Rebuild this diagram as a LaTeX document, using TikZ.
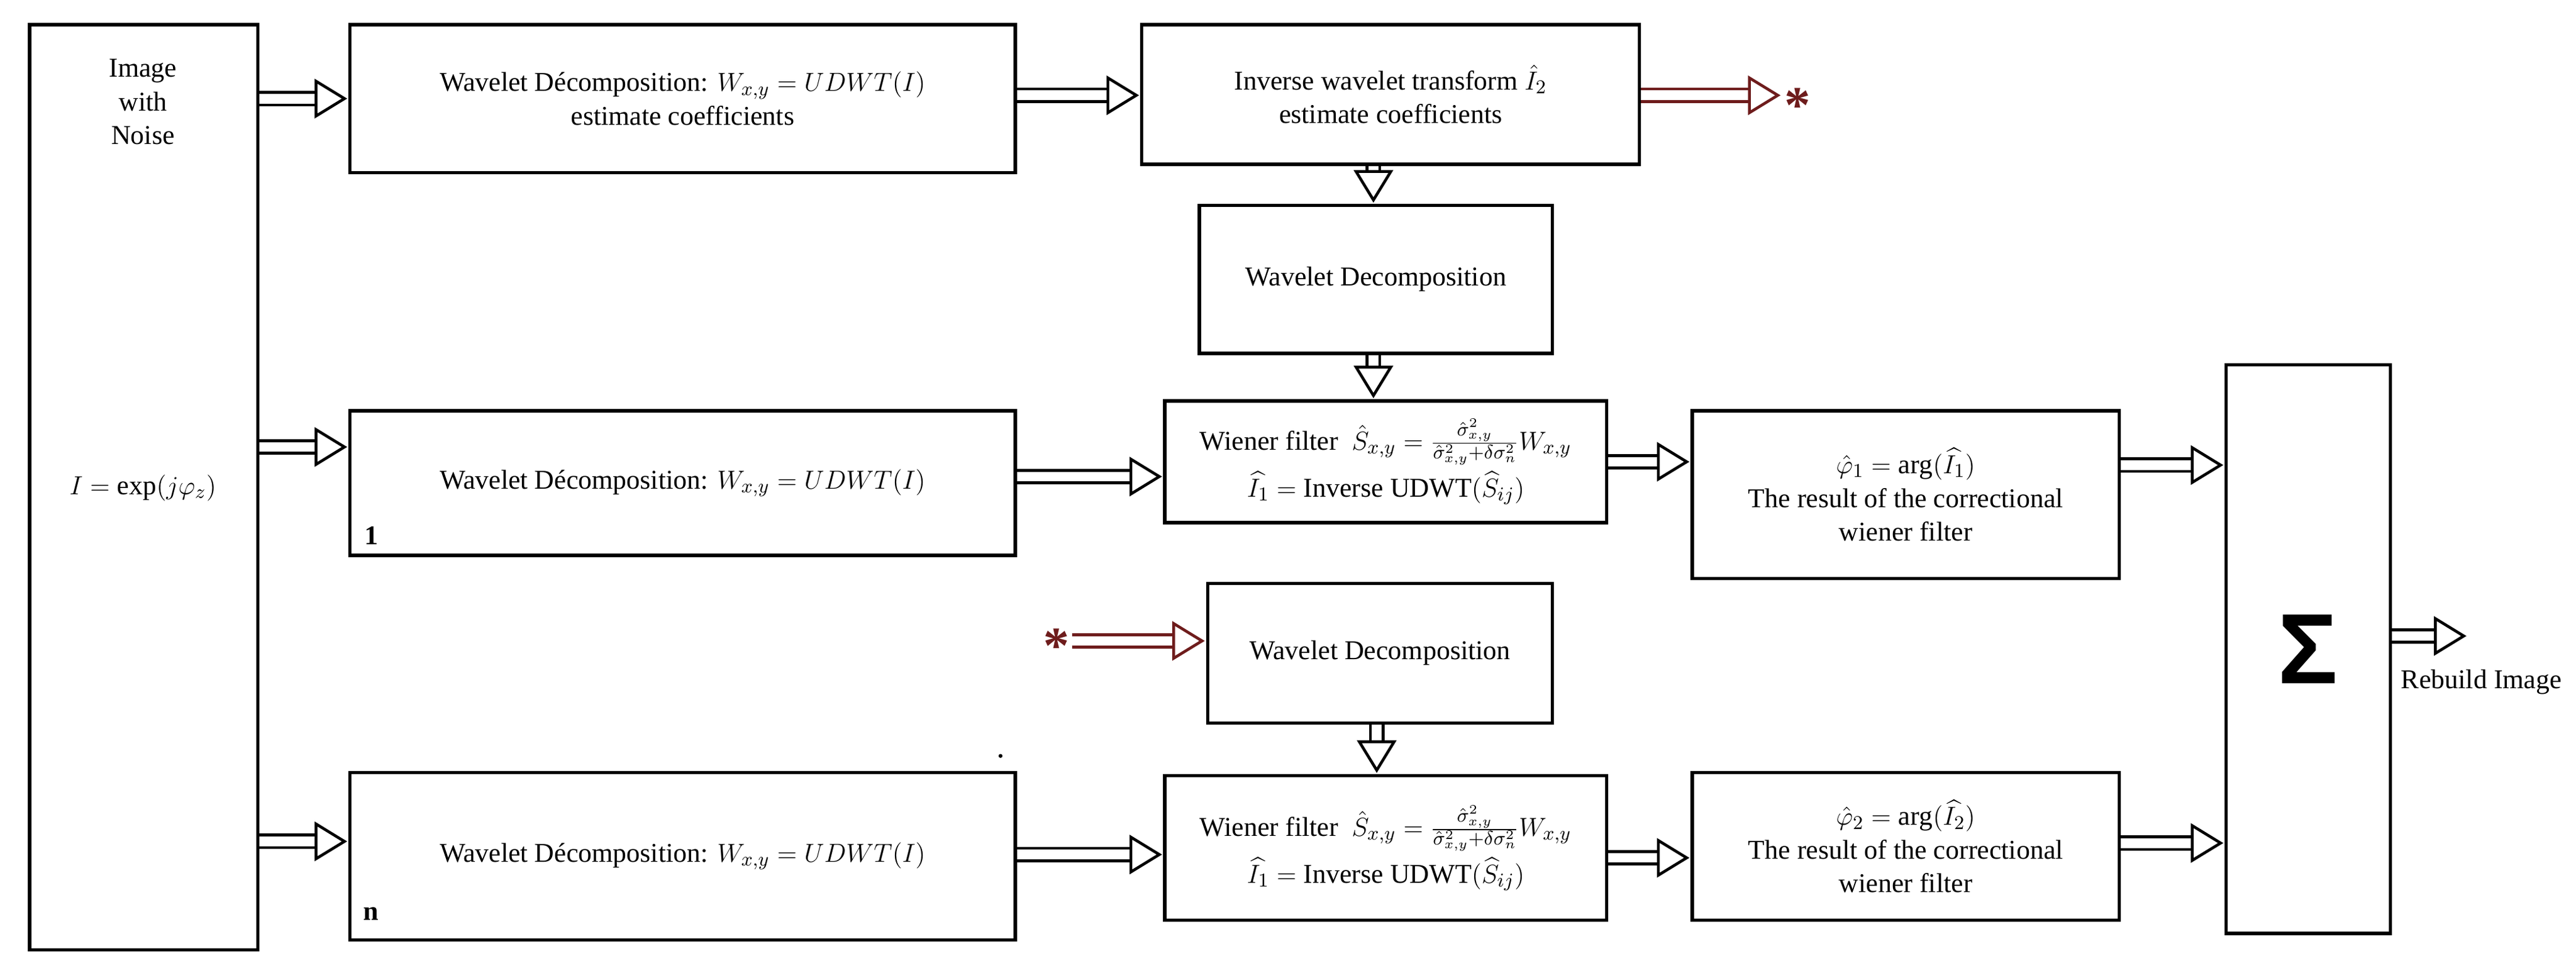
\documentclass[tikz,border=0pt]{standalone}
\usepackage{amsmath}
\usepackage{fontspec}
\setmainfont{Liberation Serif}
\newfontfamily\sgmfont{Liberation Sans}
\usetikzlibrary{arrows.meta}
\definecolor{dred}{RGB}{110,28,28}
\newcommand\blk[6]{\node[box, minimum width={(#4-#2)*0.0266cm}, minimum height={(#5-#3)*0.0266cm}] (#1) at ({(#2+#4)/2},{(#3+#5)/2}) {#6};}
\tikzset{
  box/.style={draw, line width=1.5pt, align=center, inner sep=2pt, font=\fontsize{12.5}{15.5}\selectfont},
  harrow/.style={double, double distance=4.5pt, line width=1.3pt, -{Triangle[open,length=15pt,width=18pt,line width=1.3pt]}, shorten >=0.5pt},
  rarrow/.style={harrow, draw=dred},
  lbl/.style={font=\fontsize{12.5}{15.5}\selectfont, align=center, inner sep=1pt}
}
\begin{document}
\begin{tikzpicture}[x=0.0266cm,y=-0.0266cm]
\useasboundingbox (0,0) rectangle (1568,592);
\blk{img}{18}{15}{157}{578}{}
\node[lbl] (imgt) at (87,62) {Image\\with\\Noise};
\node[lbl] (imgf) at (87,297) {$I=\exp(j\varphi_z)$};
\blk{wda}{213}{15}{618}{105}{Wavelet Décomposition: $W_{x,y}=UDWT(I)$\\estimate coefficients}
\blk{inv}{695}{15}{998}{100}{Inverse wavelet transform $\hat I_2$\\estimate coefficients}
\node[lbl, text=dred, font=\fontsize{24}{24}\selectfont\bfseries] (st1) at (1094,64) {*};
\blk{wd2}{730}{125}{945}{215}{Wavelet Decomposition}
\blk{wi1}{709}{244}{978}{318}{Wiener filter\ \ $\hat S_{x,y}=\frac{\hat\sigma^2_{x,y}}{\hat\sigma^2_{x,y}+\delta\sigma^2_n}W_{x,y}$\\[2pt]$\widehat{I_1}=\text{Inverse UDWT}(\widehat{S}_{ij})$}
\blk{wd1}{213}{250}{618}{338}{Wavelet Décomposition: $W_{x,y}=UDWT(I)$}
\node[lbl, font=\fontsize{12.5}{15}\selectfont\bfseries] (one) at (226,326) {1};
\blk{ph1}{1030}{250}{1290}{352}{$\hat\varphi_1=\arg(\widehat{I_1})$\\The result of the correctional\\wiener filter}
\blk{sig}{1355}{222}{1455}{568}{\fontsize{46}{46}\selectfont\sgmfont\bfseries Σ}
\node[lbl, anchor=west] (out) at (1460,415) {Rebuild Image};
\node[lbl, text=dred, font=\fontsize{24}{24}\selectfont\bfseries] (st2) at (643,393) {*};
\blk{wd3}{735}{355}{945}{440}{Wavelet Decomposition}
\blk{wi2}{709}{472}{978}{560}{Wiener filter\ \ $\hat S_{x,y}=\frac{\hat\sigma^2_{x,y}}{\hat\sigma^2_{x,y}+\delta\sigma^2_n}W_{x,y}$\\[2pt]$\widehat{I_1}=\text{Inverse UDWT}(\widehat{S}_{ij})$}
\blk{wdn}{213}{470}{618}{572}{Wavelet Décomposition: $W_{x,y}=UDWT(I)$}
\node[lbl, font=\fontsize{12.5}{15}\selectfont\bfseries] (nn) at (226,556) {n};
\blk{ph2}{1030}{470}{1290}{560}{$\hat\varphi_2=\arg(\widehat{I_2})$\\The result of the correctional\\wiener filter}
\fill (609,460) circle (1.2);
\coordinate (oe) at (1502,387);
% arrows
\draw[harrow] (img.east |- 0,60) -- (wda.west |- 0,60);
\draw[harrow] (wda.east |- 0,58) -- (inv.west |- 0,58);
\draw[rarrow] (inv.east |- 0,58) -- (st1.west |- 0,58);
\draw[harrow] (inv.south -| 836,0) -- (wd2.north -| 836,0);
\draw[harrow] (wd2.south -| 836,0) -- (wi1.north -| 836,0);
\draw[harrow] (img.east |- 0,272) -- (wd1.west |- 0,272);
\draw[harrow] (wd1.east |- 0,290) -- (wi1.west |- 0,290);
\draw[harrow] (wi1.east |- 0,281) -- (ph1.west |- 0,281);
\draw[harrow] (ph1.east |- 0,283) -- (sig.west |- 0,283);
\draw[harrow] (sig.east |- 0,387) -- (oe);
\draw[rarrow] (st2.east |- 0,390) -- (wd3.west |- 0,390);
\draw[harrow] (wd3.south -| 838,0) -- (wi2.north -| 838,0);
\draw[harrow] (img.east |- 0,512) -- (wdn.west |- 0,512);
\draw[harrow] (wdn.east |- 0,520) -- (wi2.west |- 0,520);
\draw[harrow] (wi2.east |- 0,522) -- (ph2.west |- 0,522);
\draw[harrow] (ph2.east |- 0,513) -- (sig.west |- 0,513);
\end{tikzpicture}
\end{document}
